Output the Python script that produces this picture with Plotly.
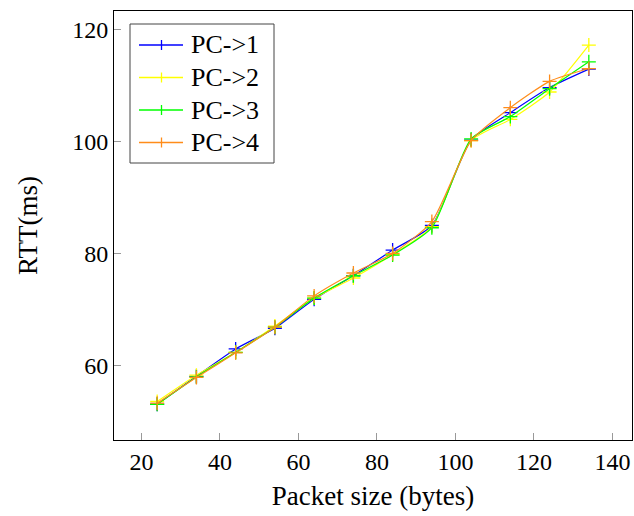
import plotly.graph_objects as go

packet_size = [24, 34, 44, 54, 64, 74, 84, 94, 104, 114, 124, 134]
pc1 = [53.0, 58.0, 62.9, 66.6, 71.8, 76.0, 80.6, 85.0, 100.3, 105.2, 109.7, 113.0]
pc2 = [53.5, 58.2, 62.3, 67.0, 72.0, 75.6, 79.8, 84.8, 100.2, 104.0, 108.9, 117.3]
pc3 = [53.0, 57.9, 62.3, 66.8, 72.0, 76.0, 79.7, 84.6, 100.5, 104.5, 109.5, 114.3]
pc4 = [53.2, 57.8, 62.2, 66.8, 72.4, 76.5, 80.0, 85.7, 100.2, 106.1, 110.8, 113.1]

series_names = ["PC->1", "PC->2", "PC->3", "PC->4"]
series_values = [pc1, pc2, pc3, pc4]
colors = ["#0000ff", "#ffff00", "#00ff00", "#ff8c1a"]

x_ticks = [20, 40, 60, 80, 100, 120, 140]
y_ticks = [60, 80, 100, 120]

FONT = "Liberation Serif, Times New Roman, serif"

W, H = 634, 516
ML, MR, MT, MB = 114, 2, 11, 76
PW, PH = W - ML - MR, H - MT - MB


def px(xp):
    return (xp - ML) / PW


def py(yp):
    return 1 - (yp - MT) / PH


fig = go.Figure()
for name, vals, col in zip(series_names, series_values, colors):
    fig.add_trace(go.Scatter(
        x=packet_size, y=vals, name=name, mode="lines+markers",
        line=dict(color=col, width=1.2, shape="spline", smoothing=0.6),
        marker=dict(symbol="cross-thin", size=10, line=dict(color=col, width=1.3)),
        showlegend=False,
    ))

# custom legend (box, sample lines with + marks, labels)
shapes = [dict(type="rect", xref="paper", yref="paper",
               x0=px(130), x1=px(274), y0=py(163), y1=py(24),
               line=dict(color="#444444", width=1), fillcolor="white", layer="above")]
annotations = []
entry_y = [45, 77.5, 110, 142.5]
for name, col, ey in zip(series_names, colors, entry_y):
    shapes.append(dict(type="line", xref="paper", yref="paper",
                       x0=px(139), x1=px(183), y0=py(ey), y1=py(ey),
                       line=dict(color=col, width=1.3), layer="above"))
    shapes.append(dict(type="line", xref="paper", yref="paper",
                       x0=px(161.5), x1=px(161.5), y0=py(ey - 5), y1=py(ey + 5),
                       line=dict(color=col, width=1.3), layer="above"))
    annotations.append(dict(text=name, xref="paper", yref="paper",
                            x=px(189), y=py(ey), xanchor="left", yanchor="middle",
                            showarrow=False,
                            font=dict(family=FONT, size=26, color="black")))

axis_common = dict(
    showgrid=False, zeroline=False, showline=True, linecolor="black", linewidth=1,
    mirror=True, ticks="inside", ticklen=7, tickcolor="#999999", tickwidth=1,
    tickfont=dict(family=FONT, size=24, color="black"),
)

fig.update_layout(
    width=W, height=H,
    margin=dict(l=ML, r=MR, t=MT, b=MB, autoexpand=False),
    paper_bgcolor="white", plot_bgcolor="white",
    font=dict(family=FONT, size=24, color="black"),
    xaxis=dict(range=[13, 145], tickvals=x_ticks,
               title=dict(text="Packet size (bytes)", font=dict(family=FONT, size=27), standoff=12),
               automargin=False, **axis_common),
    yaxis=dict(range=[46.6, 123.4], tickvals=y_ticks,
               title=dict(text="RTT(ms)", font=dict(family=FONT, size=27), standoff=26),
               automargin=False, **axis_common),
    shapes=shapes,
    annotations=annotations,
    showlegend=False,
)

fig.write_html("out.html",
               config={"displayModeBar": False},
               post_script="document.body.style.margin='0';document.body.style.overflow='hidden';")
